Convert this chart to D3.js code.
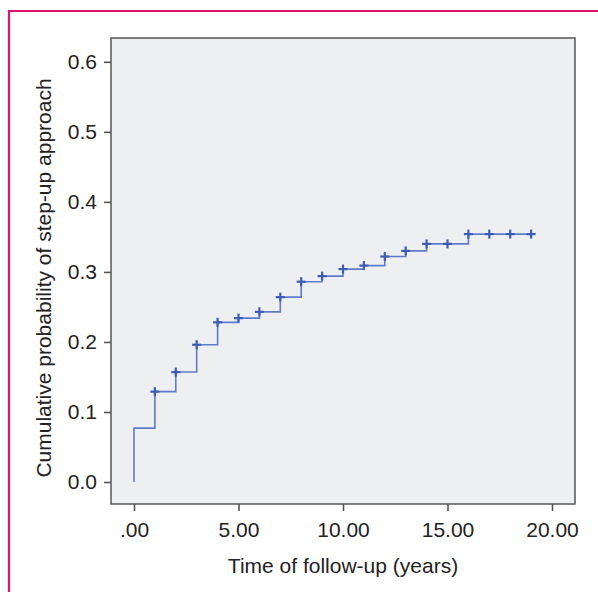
<!DOCTYPE html>
<html>
<head>
<meta charset="utf-8">
<script src="https://cdn.jsdelivr.net/npm/d3@7"></script>
<style>
  body { margin: 0; background: #fff; }
  svg { display: block; font-family: "Liberation Sans", Arial, sans-serif; }
</style>
</head>
<body>
<svg width="598" height="592"></svg>
<script>
// Data
const stepTimes = [0, 1, 2, 3, 4, 5, 6, 7, 8, 9, 10, 11, 12, 13, 14, 15, 16, 17, 18, 19]
const cumProb = [0.077, 0.129, 0.157, 0.196, 0.228, 0.234, 0.243, 0.264, 0.286, 0.294,
                 0.304, 0.309, 0.322, 0.330, 0.340, 0.340, 0.354, 0.354, 0.354, 0.354]
const censored = [1, 2, 3, 4, 5, 6, 7, 8, 9, 10, 11, 12, 13, 14, 15, 16, 17, 18, 19]
const xTicks = [0, 5, 10, 15, 20]
const yTicks = [0, 0.1, 0.2, 0.3, 0.4, 0.5, 0.6]

// Set up
const svg = d3.select('svg')
const plot = { left: 111, right: 575, top: 38, bottom: 504 }

const x = d3.scaleLinear().domain([-1.1, 21.1]).range([plot.left, plot.right])
const y = d3.scaleLinear().domain([-0.0314, 0.634]).range([plot.bottom, plot.top])

// magenta frame
svg.append('path')
    .attr('d', 'M9,592 V11 H598')
    .attr('fill', 'none')
    .attr('stroke', '#e0116f')
    .attr('stroke-width', 2.2)

// plot background
svg.append('rect')
    .attr('x', plot.left)
    .attr('y', plot.top)
    .attr('width', plot.right - plot.left)
    .attr('height', plot.bottom - plot.top)
    .attr('fill', '#eeeff1')
    .attr('stroke', '#616161')
    .attr('stroke-width', 1.6)

// axes
svg.append('g')
    .attr('transform', `translate(0,${plot.bottom})`)
    .call(d3.axisBottom(x)
        .tickValues(xTicks)
        .tickSize(7)
        .tickPadding(11)
        .tickFormat(d => d === 0 ? '.00' : d3.format('.2f')(d)))

svg.append('g')
    .attr('transform', `translate(${plot.left},0)`)
    .call(d3.axisLeft(y)
        .tickValues(yTicks)
        .tickSize(7)
        .tickPadding(7)
        .tickFormat(d3.format('.1f')))

svg.selectAll('.domain').remove()
svg.selectAll('.tick line').attr('stroke', '#555').attr('stroke-width', 1.6)
svg.selectAll('.tick text')
    .attr('fill', '#222')
    .style('font-size', '21px')
    .style('font-family', '"Liberation Sans", Arial, sans-serif')

// axis titles
svg.append('text')
    .attr('x', x(10))
    .attr('y', 573)
    .attr('text-anchor', 'middle')
    .style('font-size', '21px')
    .attr('fill', '#222')
    .text('Time of follow-up (years)')

svg.append('text')
    .attr('transform', 'translate(51,278) rotate(-90)')
    .attr('text-anchor', 'middle')
    .style('font-size', '21px')
    .attr('fill', '#222')
    .text('Cumulative probability of step-up approach')

// step curve: value jumps at each step time
const pts = [[0, 0]].concat(stepTimes.map((t, i) => [t, cumProb[i]]))
const line = d3.line()
    .x(d => x(d[0]))
    .y(d => y(d[1]))
    .curve(d3.curveStepAfter)

svg.append('path')
    .datum(pts)
    .attr('d', line)
    .attr('fill', 'none')
    .attr('stroke', '#5d7ccc')
    .attr('stroke-width', 1.6)

// censor marks
const marks = svg.append('g')
    .selectAll('g')
    .data(censored)
    .join('g')
    .attr('transform', d => `translate(${x(d)},${y(cumProb[stepTimes.indexOf(d)])})`)

marks.append('line')
    .attr('x1', -4.5).attr('x2', 4.5)
    .attr('stroke', '#3a5cb6').attr('stroke-width', 2.2)
marks.append('line')
    .attr('y1', -4.5).attr('y2', 4.5)
    .attr('stroke', '#3a5cb6').attr('stroke-width', 2.2)
</script>
</body>
</html>
